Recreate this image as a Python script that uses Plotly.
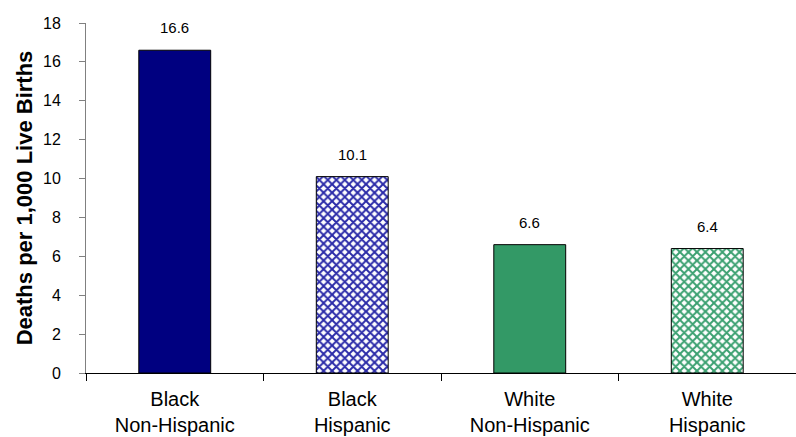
import plotly.graph_objects as go

# Infant mortality by race / Hispanic origin
categories = ["Black<br>Non-Hispanic", "Black<br>Hispanic", "White<br>Non-Hispanic", "White<br>Hispanic"]
deaths_per_1000 = [16.6, 10.1, 6.6, 6.4]
y_ticks = [0, 2, 4, 6, 8, 10, 12, 14, 16, 18]

bar_colors = ["#000080", "#2a2aa8", "#339966", "#3aa070"]
pattern_shapes = ["", "x", "", "x"]

FONT = "Liberation Sans, Arial, sans-serif"

fig = go.Figure(
    go.Bar(
        x=categories,
        y=deaths_per_1000,
        width=0.405,
        marker=dict(
            color=bar_colors,
            line=dict(color="#000000", width=1),
            pattern=dict(shape=pattern_shapes, bgcolor="#ffffff",
                         size=6, solidity=0.55, fillmode="replace"),
        ),
        hoverinfo="x+y",
    )
)

# value labels above each bar
for cat, val in zip(categories, deaths_per_1000):
    fig.add_annotation(
        x=cat, y=val, text=f"{val:.1f}", showarrow=False,
        yanchor="bottom", yshift=12,
        font=dict(family=FONT, size=15, color="#000000"),
    )

fig.update_layout(
    width=796,
    height=437,
    margin=dict(l=86, r=0, t=23, b=64),
    paper_bgcolor="#ffffff",
    plot_bgcolor="#ffffff",
    showlegend=False,
    font=dict(family=FONT, color="#000000"),
)

fig.update_xaxes(
    type="category",
    tickson="boundaries",
    ticks="outside",
    ticklen=7,
    tickcolor="#000000",
    showline=True,
    linecolor="#000000",
    linewidth=1,
    showgrid=False,
    ticklabelstandoff=8,
    tickfont=dict(family=FONT, size=20, color="#000000"),
)

fig.update_yaxes(
    range=[0, 18],
    tickvals=y_ticks,
    ticks="outside",
    ticklen=6,
    tickcolor="#808080",
    showline=True,
    linecolor="#808080",
    linewidth=1,
    showgrid=False,
    zeroline=False,
    ticklabelstandoff=15,
    tickfont=dict(family=FONT, size=16, color="#000000"),
    title=dict(text="<b>Deaths per 1,000 Live Births</b>",
               font=dict(family=FONT, size=22, color="#000000"), standoff=4),
)

fig.write_html("out.html")
